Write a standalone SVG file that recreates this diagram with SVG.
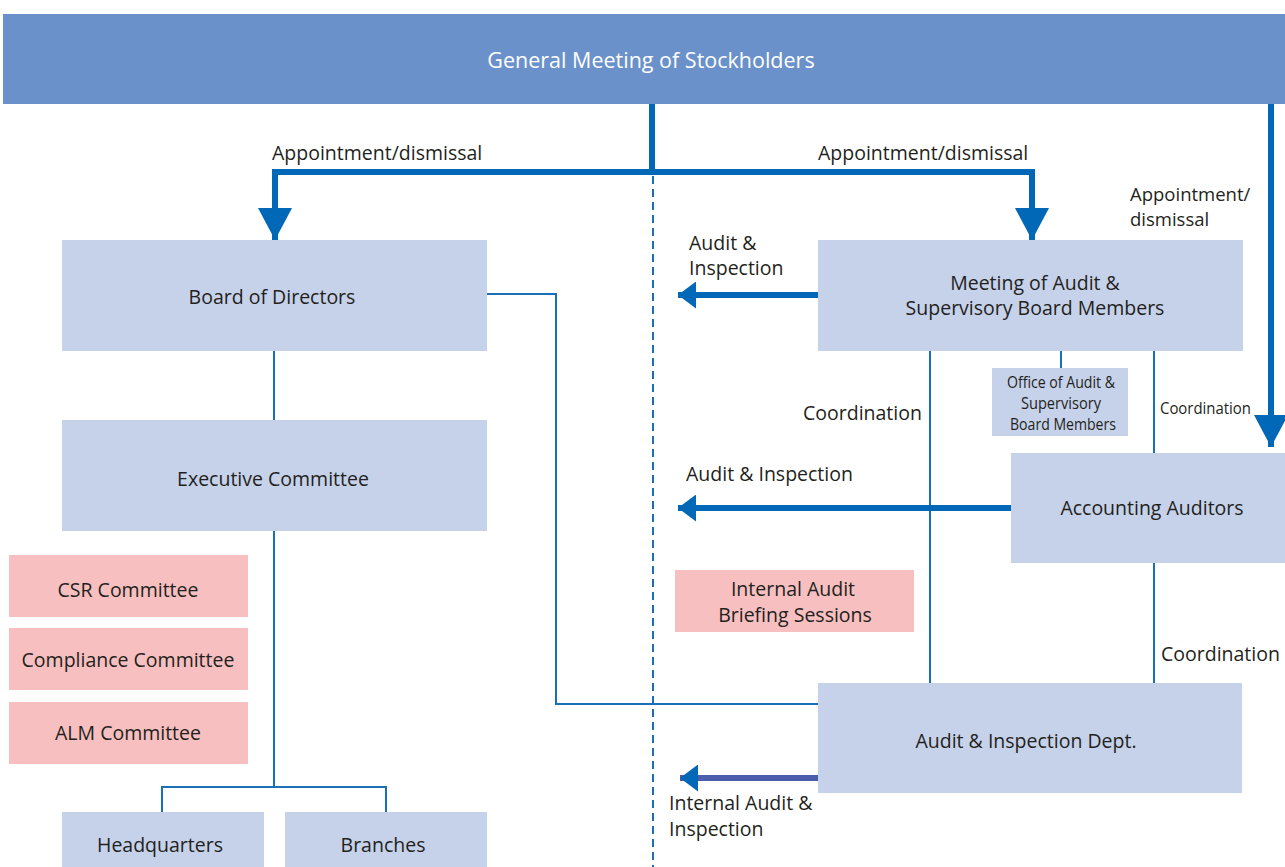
<svg xmlns="http://www.w3.org/2000/svg" width="1285" height="867" viewBox="0 0 1285 867">
  <style>
    .box { fill: #c6d2ea; }
    .pink { fill: #f7bfbf; }
    .t { font-family: "Open Sans", "Noto Sans", sans-serif; font-size: 19.5px; fill: #231f20; text-anchor: middle; }
    .lbl { font-family: "Open Sans", "Noto Sans", sans-serif; font-size: 19.5px; fill: #231f20; }
    .thick { stroke: #0068b7; stroke-width: 6; fill: none; }
    .thin { stroke: #1a6fb8; stroke-width: 2; fill: none; }
  </style>
  <defs>
    <marker id="down" markerUnits="userSpaceOnUse" markerWidth="32" markerHeight="34" refX="32" refY="17" orient="auto">
      <path d="M0,0 L32,17 L0,34 Z" fill="#0068b7"/>
    </marker>
    <marker id="left" markerUnits="userSpaceOnUse" markerWidth="18" markerHeight="27" refX="18" refY="13.5" orient="auto">
      <path d="M0,0 L18,13.5 L0,27 Z" fill="#0068b7"/>
    </marker>
  </defs>

  <!-- dashed divider -->
  <line x1="653" y1="176" x2="653" y2="867" stroke="#1a6fb8" stroke-width="2" stroke-dasharray="8 5"/>

  <g id="connectors">
    <!-- appointment / dismissal from the general meeting -->
    <path class="thick" d="M652,104 V172"/>
    <path class="thick" d="M272,172 H1035"/>
    <path class="thick" d="M275,172 V240" marker-end="url(#down)"/>
    <path class="thick" d="M1032,172 V240" marker-end="url(#down)"/>
    <path class="thick" d="M1271,104 V447" marker-end="url(#down)"/>

    <!-- audit & inspection arrows -->
    <path class="thick" d="M818,295 H678" marker-end="url(#left)"/>
    <path class="thin" d="M930,351 V683"/>
    <path class="thick" d="M1011,508 H678" marker-end="url(#left)"/>
    <path d="M818,778 H680" stroke="#4a5eab" stroke-width="6" fill="none" marker-end="url(#left)"/>

    <!-- thin organisation lines -->
    <path class="thin" d="M274,351 V420"/>
    <path class="thin" d="M274,531 V787 M162,812 V787 H386 V812"/>
    <path class="thin" d="M487,294 H556 V704 H818"/>
    <path class="thin" d="M1061,351 V368"/>
    <path class="thin" d="M1154,351 V453"/>
    <path class="thin" d="M1154,563 V683"/>
  </g>

  <g id="general-meeting">
    <rect x="3" y="14" width="1282" height="90" fill="#6a91ca"/>
    <text class="t" x="651" y="68" style="fill:#ffffff;font-size:21.5px">General Meeting of Stockholders</text>
  </g>

  <g id="board-of-directors">
    <rect class="box" x="62" y="240" width="425" height="111"/>
    <text class="t" x="272" y="304">Board of Directors</text>
  </g>

  <g id="executive-committee">
    <rect class="box" x="62" y="420" width="425" height="111"/>
    <text class="t" x="273" y="486">Executive Committee</text>
  </g>

  <g id="csr-committee">
    <rect class="pink" x="9" y="555" width="239" height="62"/>
    <text class="t" x="128" y="597">CSR Committee</text>
  </g>
  <g id="compliance-committee">
    <rect class="pink" x="9" y="628" width="239" height="62"/>
    <text class="t" x="128" y="667">Compliance Committee</text>
  </g>
  <g id="alm-committee">
    <rect class="pink" x="9" y="702" width="239" height="62"/>
    <text class="t" x="128" y="740">ALM Committee</text>
  </g>

  <g id="headquarters">
    <rect class="box" x="62" y="812" width="202" height="60"/>
    <text class="t" x="160" y="852">Headquarters</text>
  </g>
  <g id="branches">
    <rect class="box" x="285" y="812" width="202" height="60"/>
    <text class="t" x="383" y="852">Branches</text>
  </g>

  <g id="audit-board-meeting">
    <rect class="box" x="818" y="240" width="425" height="111"/>
    <text class="t" x="1035" y="290">Meeting of Audit &amp;</text>
    <text class="t" x="1035" y="315">Supervisory Board Members</text>
  </g>

  <g id="audit-board-office">
    <rect class="box" x="992" y="368" width="136" height="68"/>
    <text class="t" x="1061" y="388" style="font-size:17px" textLength="108" lengthAdjust="spacingAndGlyphs">Office of Audit &amp;</text>
    <text class="t" x="1061" y="409" style="font-size:17px" textLength="80" lengthAdjust="spacingAndGlyphs">Supervisory</text>
    <text class="t" x="1063" y="430" style="font-size:17px" textLength="106" lengthAdjust="spacingAndGlyphs">Board Members</text>
  </g>

  <g id="accounting-auditors">
    <rect class="box" x="1011" y="453" width="274" height="110"/>
    <text class="t" x="1152" y="515">Accounting Auditors</text>
  </g>

  <g id="internal-audit-briefing">
    <rect class="pink" x="675" y="570" width="239" height="62"/>
    <text class="t" x="793" y="596">Internal Audit</text>
    <text class="t" x="795" y="622">Briefing Sessions</text>
  </g>

  <g id="audit-inspection-dept">
    <rect class="box" x="818" y="683" width="424" height="110"/>
    <text class="t" x="1026" y="748">Audit &amp; Inspection Dept.</text>
  </g>

  <g id="labels">
    <text class="lbl" x="272" y="160">Appointment/dismissal</text>
    <text class="lbl" x="818" y="160">Appointment/dismissal</text>
    <text class="lbl" x="1130" y="201" style="font-size:18.5px">Appointment/</text>
    <text class="lbl" x="1130" y="226" style="font-size:18.5px">dismissal</text>
    <text class="lbl" x="689" y="250">Audit &amp;</text>
    <text class="lbl" x="689" y="275">Inspection</text>
    <text class="lbl" x="803" y="420">Coordination</text>
    <text class="lbl" x="1160" y="414" style="font-size:17px" textLength="91" lengthAdjust="spacingAndGlyphs">Coordination</text>
    <text class="lbl" x="686" y="481">Audit &amp; Inspection</text>
    <text class="lbl" x="1161" y="661">Coordination</text>
    <text class="lbl" x="669" y="810">Internal Audit &amp;</text>
    <text class="lbl" x="669" y="836">Inspection</text>
  </g>
</svg>
